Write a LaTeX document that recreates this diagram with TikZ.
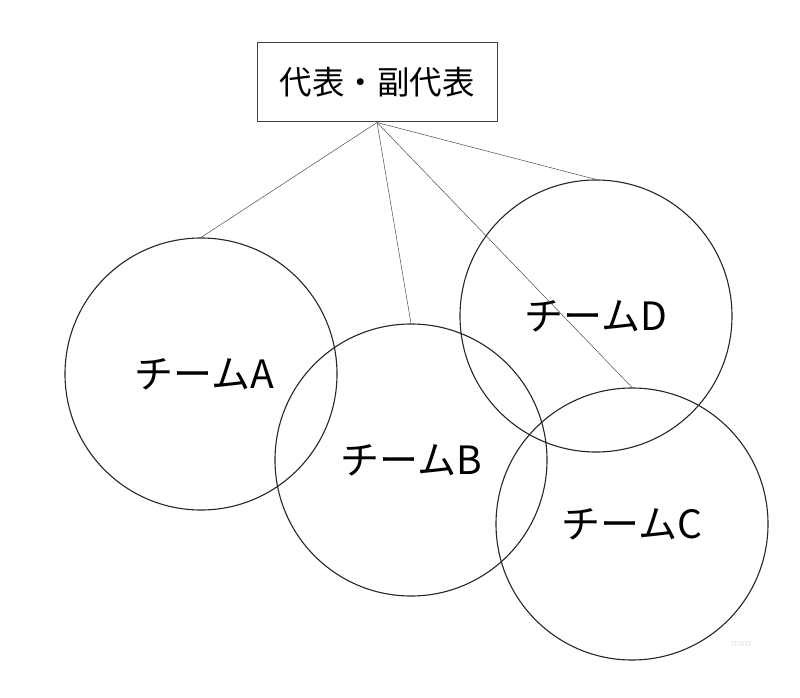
\documentclass[tikz,border=0pt]{standalone}
\usepackage{fontspec}
\setmainfont{Noto Sans CJK JP}
\begin{document}
\begin{tikzpicture}[x=1pt,y=-1pt,
  team/.style={circle,draw=black!85,line width=1.1pt,minimum size=272pt,inner sep=0pt,font=\fontsize{39}{42}\selectfont},
  lead/.style={draw=black!75,line width=1pt,minimum width=240pt,minimum height=79pt,inner sep=0pt,font=\fontsize{32.5}{36}\selectfont},
  link/.style={draw=black!70,line width=0.5pt}]
\useasboundingbox (0,0) rectangle (800,698);
\node[lead] (top) at (377,82.5) {代表・副代表};
\node[team] (A) at (201,374) {\hspace*{6pt}チームA};
\node[team] (B) at (411,460) {チームB};
\node[team] (D) at (596,316) {チームD};
\node[team] (C) at (632,524) {チームC};
\draw[link] (top.south) -- (A.north);
\draw[link] (top.south) -- (B.north);
\draw[link] (top.south) -- (D.north);
\draw[link] (top.south) -- (C.north);
\node[text=black!12,font=\fontsize{9}{10}\selectfont] (wm) at (741,643) {miro};
\end{tikzpicture}
\end{document}
